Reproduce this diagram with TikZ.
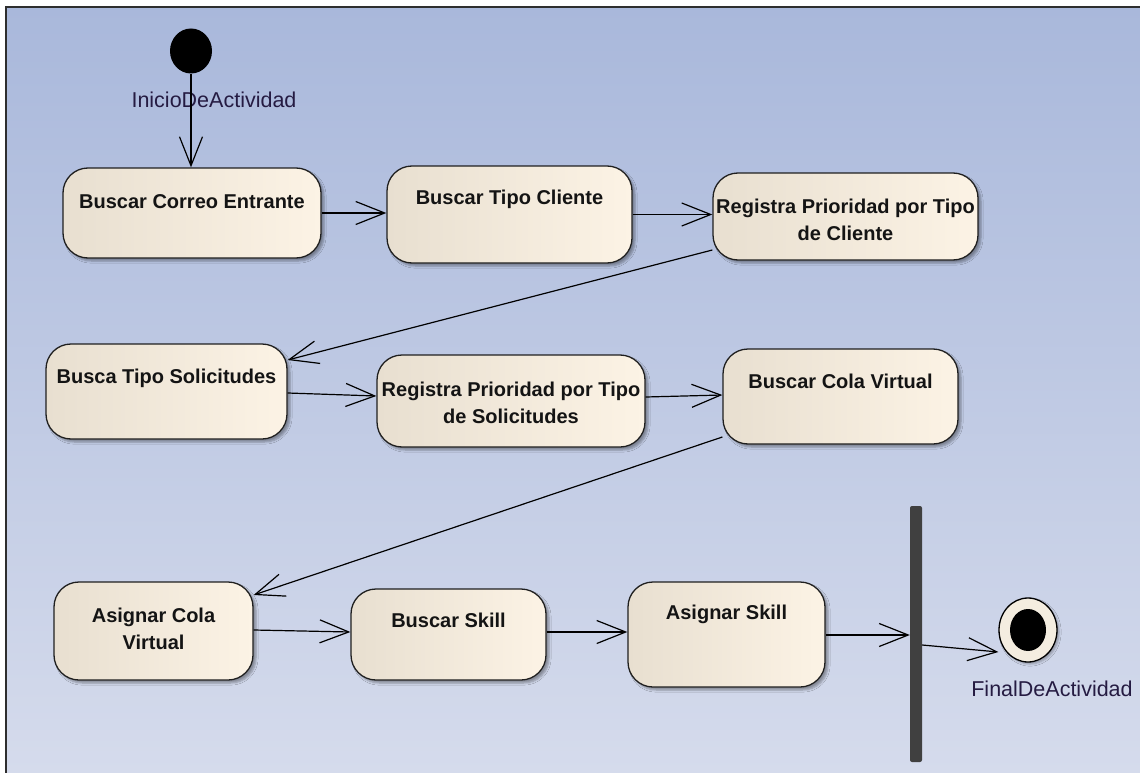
\documentclass[tikz,border=0pt]{standalone}
\usepackage{fontspec}
\setmainfont{Liberation Sans}
\usetikzlibrary{arrows.meta,shapes.geometric,shadows.blur}

\definecolor{bgTop}{HTML}{A9B8DB}
\definecolor{bgBot}{HTML}{D5DBEC}
\definecolor{frameC}{HTML}{2E2E2E}
\definecolor{boxL}{HTML}{E8DFD0}
\definecolor{boxR}{HTML}{FCF3E5}
\definecolor{barC}{HTML}{404040}
\definecolor{lblC}{HTML}{251B42}
\definecolor{finFill}{HTML}{F4EDE0}

\tikzset{
  act/.style={draw=black!88, line width=1.3pt, rounded corners=25pt,
    left color=boxL, right color=boxR, inner sep=0pt,
    blur shadow={shadow xshift=3pt, shadow yshift=-3pt, shadow blur steps=5, shadow opacity=35}},
  acttext/.style={inner sep=0pt, align=center, text=black!92,
    font=\fontsize{20}{27}\selectfont\bfseries},
  onelinetext/.style={acttext, anchor=base},
  twolinetext/.style={acttext, anchor=center},
  statelabel/.style={inner sep=0pt, text=lblC, font=\fontsize{21.5}{24}\selectfont},
  flow/.style={draw=black, line width=1.2pt,
    -{Straight Barb[length=29pt,width=23pt,line width=1.2pt]}},
}

\begin{document}
\begin{tikzpicture}[x=1pt,y=1pt]
\useasboundingbox (0,0) rectangle (1140,-773);

% canvas with its frame on the top and left edges
\shade[top color=bgTop, bottom color=bgBot] (6,-7) rectangle (1140,-773);
\draw[frameC, line width=2pt] (6,-773) -- (6,-7) -- (1140,-7);

% initial and final states
\node[ellipse, fill=black, minimum width=42pt, minimum height=45pt, inner sep=0pt] (init) at (191,-51) {};
\node[statelabel] (initLbl) at (214,-100) {InicioDeActividad};

\node[ellipse, draw=black, line width=1.3pt, fill=finFill, minimum width=58pt, minimum height=64pt, inner sep=0pt,
  blur shadow={shadow xshift=2pt, shadow yshift=-2pt, shadow blur steps=4, shadow opacity=30}] (fin) at (1028,-630) {};
\node[ellipse, fill=black, minimum width=36pt, minimum height=42pt, inner sep=0pt] (finDot) at (fin.center) {};
\node[statelabel] (finLbl) at (1052,-689) {FinalDeActividad};

% join bar
\node[rectangle, fill=barC, rounded corners=2pt, minimum width=12pt, minimum height=256pt, inner sep=0pt] (bar) at (916,-634) {};

% activities
\node[act, minimum width=258pt, minimum height=90pt] (c1) at (192,-213) {};
\node[onelinetext] (c1t) at ([yshift=-41pt]c1.north) {Buscar Correo Entrante};

\node[act, minimum width=245pt, minimum height=97pt] (c2) at (509.5,-214.5) {};
\node[onelinetext] (c2t) at ([yshift=-39pt]c2.north) {Buscar Tipo Cliente};

\node[act, minimum width=265pt, minimum height=87pt] (c3) at (845.5,-216.5) {};
\node[twolinetext] (c3t) at ([yshift=-47.5pt]c3.north) {Registra Prioridad por Tipo\\de Cliente};

\node[act, minimum width=241pt, minimum height=95pt] (c4) at (166.5,-391.5) {};
\node[onelinetext] (c4t) at ([yshift=-40pt]c4.north) {Busca Tipo Solicitudes};

\node[act, minimum width=268pt, minimum height=92pt] (c5) at (511,-401) {};
\node[twolinetext] (c5t) at ([yshift=-48.5pt]c5.north) {Registra Prioridad por Tipo\\de Solicitudes};

\node[act, minimum width=235pt, minimum height=95pt] (c6) at (840.5,-396.5) {};
\node[onelinetext] (c6t) at ([yshift=-40pt]c6.north) {Buscar Cola Virtual};

\node[act, minimum width=199pt, minimum height=98pt] (c7) at (153.5,-631) {};
\node[twolinetext] (c7t) at ([yshift=-47pt]c7.north) {Asignar Cola\\Virtual};

\node[act, minimum width=195pt, minimum height=91pt] (c8) at (448.5,-634.5) {};
\node[onelinetext] (c8t) at ([yshift=-39pt]c8.north) {Buscar Skill};

\node[act, minimum width=197pt, minimum height=105pt] (c9) at (726.5,-634.5) {};
\node[onelinetext] (c9t) at ([yshift=-38pt]c9.north) {Asignar Skill};

% control flows
\draw[flow] (init.south) -- (init.south |- c1.north);
\draw[flow] (c1.east) -- (c1.east -| c2.west);
\draw[flow] (c2.east) -- (c2.east -| c3.west);
\draw[flow] ([yshift=-33.5pt]c3.west) -- ([yshift=31.5pt]c4.east);
\draw[flow] ([yshift=-1.5pt]c4.east) -- ([yshift=5pt]c5.west);
\draw[flow] ([yshift=4pt]c5.east) -- ([yshift=1.5pt]c6.west);
\draw[flow] ([yshift=-40.5pt]c6.west) -- ([yshift=36pt]c7.east);
\draw[flow] ([yshift=1pt]c7.east) -- ([yshift=2.5pt]c8.west);
\draw[flow] ([yshift=2.5pt]c8.east) -- ([yshift=2.5pt]c9.west);
\draw[flow] ([yshift=-0.5pt]c9.east) -- ([yshift=-0.5pt]c9.east -| bar.west);
\draw[flow] ([yshift=-11pt]bar.east) -- ([yshift=-22pt]fin.west);
\end{tikzpicture}
\end{document}
